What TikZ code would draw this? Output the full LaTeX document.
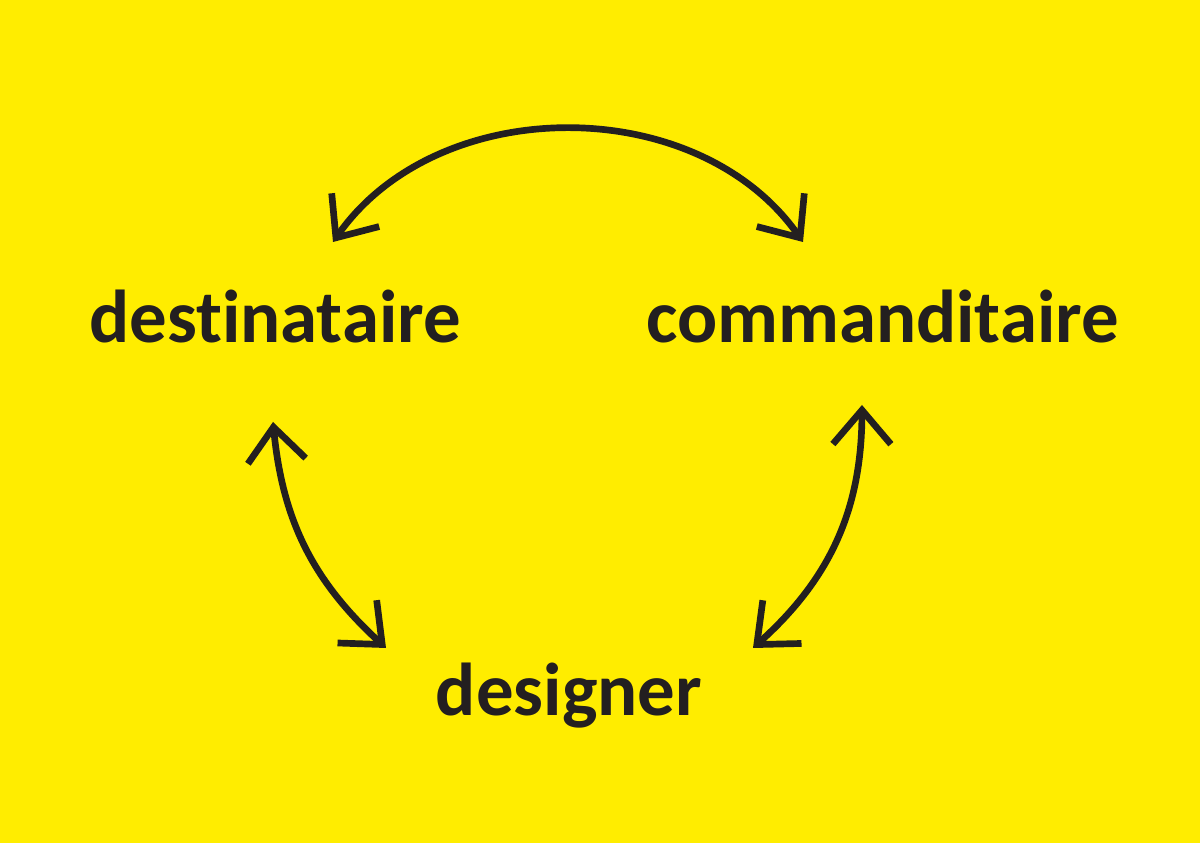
\documentclass[tikz,border=0pt]{standalone}
\usepackage{fontspec}
\setmainfont{Carlito}[Ligatures=NoCommon]
\usepackage{xcolor}
\usetikzlibrary{arrows.meta, calc}
\definecolor{bgyellow}{HTML}{FFED00}
\definecolor{ink}{HTML}{231F20}

\begin{document}
\begin{tikzpicture}[
    word/.style={font=\fontsize{21.3}{25}\selectfont\bfseries, text=ink, inner sep=0pt, anchor=base},
    >={Straight Barb[length=3.4mm,width=5.8mm]},
    link/.style={draw=ink, line width=1.9pt, <->}
]
% Background
\fill[bgyellow] (0,0) rectangle (12,8.43);
% Labels
\node[word] (destinataire) at (2.75,5.00) {destinataire};
\node[word] (commanditaire) at (8.825,5.00) {commanditaire};
\node[word] (designer) at (5.69,1.27) {designer};
% Arrow ends
\coordinate (destTop) at ($(destinataire.base)+(0.58,1.01)$);
\coordinate (destLow) at ($(destinataire.base)+(-0.02,-0.79)$);
\coordinate (commTop) at ($(commanditaire.base)+(-0.795,1.01)$);
\coordinate (commLow) at ($(commanditaire.base)+(-0.205,-0.62)$);
\coordinate (desLeft) at ($(designer.base)+(-1.83,0.68)$);
\coordinate (desRight) at ($(designer.base)+(1.84,0.68)$);
% Connections
\draw[link] (destTop) to[bend left=55] (commTop);
\draw[link] (destLow) to[bend right=21] (desLeft);
\draw[link] (commLow) to[bend left=24] (desRight);
\end{tikzpicture}
\end{document}
